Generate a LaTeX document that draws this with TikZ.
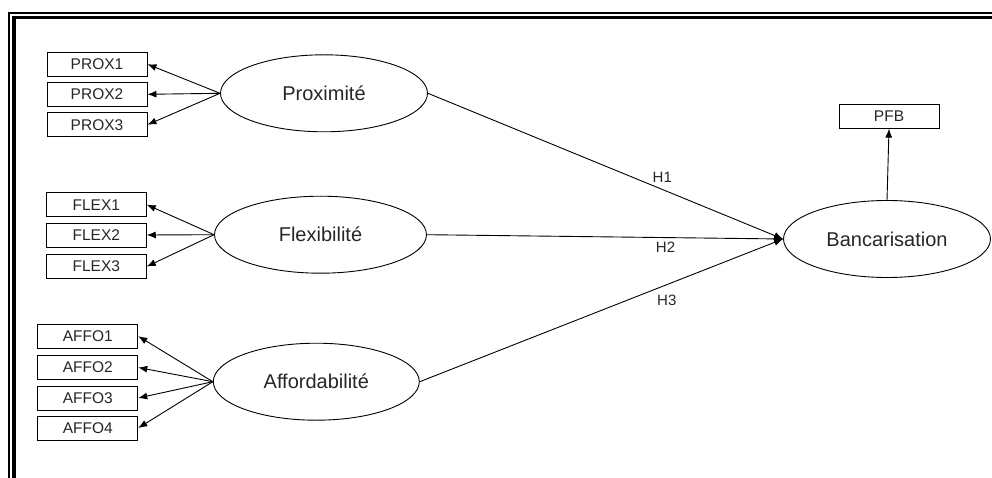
\documentclass[tikz,border=0pt]{standalone}
\usepackage{fontspec}
\setmainfont{Liberation Sans}
\usetikzlibrary{arrows.meta,shapes.geometric}
\tikzset{
  ind/.style={draw, line width=0.9pt, minimum width=100pt, minimum height=24pt,
    inner sep=0pt, font=\fontsize{15.5}{17}\selectfont},
  lat/.style={draw, ellipse, line width=0.9pt, minimum width=207pt,
    minimum height=77pt, inner sep=0pt, font=\fontsize{20}{22}\selectfont},
  hyp/.style={inner sep=1pt, font=\fontsize{15}{17}\selectfont},
  arr/.style={line width=0.9pt, -{Latex[length=9pt,width=7pt]}},
}
\begin{document}
\begin{tikzpicture}[x=1pt, y=-1pt, text=black!85]
      \useasboundingbox (0,0) rectangle (992,478);
      % frame
      \draw[line width=1.4pt] (8.8,478) -- (8.8,13) -- (992,13);
      \draw[line width=3.4pt] (14,478) -- (14,17.4) -- (992,17.4);
      \draw
        (324,93.3) node[lat] (prox){Proximité}
        (320.5,234.7) node[lat, minimum width=212pt] (flex){Flexibilité}
        (316.3,381.7) node[lat, minimum width=206pt] (affo){Affordabilité}
        (887,239) node[lat] (banc){Bancarisation}
        (97,64.2) node[ind] (prox1){PROX1}
        (97,94.3) node[ind] (prox2){PROX2}
        (97,124.7) node[ind] (prox3){PROX3}
        (96.3,204.7) node[ind] (flex1){FLEX1}
        (96.3,235) node[ind] (flex2){FLEX2}
        (96.3,266.5) node[ind] (flex3){FLEX3}
        (87.8,336.2) node[ind] (affo1){AFFO1}
        (87.8,367.5) node[ind] (affo2){AFFO2}
        (87.8,398) node[ind] (affo3){AFFO3}
        (87.8,428) node[ind] (affo4){AFFO4}
        (889,116.2) node[ind] (pfb){PFB};
      \begin{scope}[arr]
        \draw (prox.west) to (prox1.east);
        \draw (prox.west) to (prox2.east);
        \draw (prox.west) to (prox3.east);
        \draw (flex.west) to (flex1.east);
        \draw (flex.west) to (flex2.east);
        \draw (flex.west) to (flex3.east);
        \draw (affo.west) to (affo1.east);
        \draw (affo.west) to (affo2.east);
        \draw (affo.west) to (affo3.east);
        \draw (affo.west) to (affo4.east);
        \draw (banc.north) to (pfb.south);
        \draw (prox.east) to node[hyp, pos=0.66, above=6pt] (h1){H1} (banc.west);
        \draw (flex.east) to node[hyp, pos=0.67, below=3pt] (h2){H2} (banc.west);
        \draw (affo.east) to node[hyp, pos=0.68, below=9pt] (h3){H3} (banc.west);
      \end{scope}
    \end{tikzpicture}
\end{document}
